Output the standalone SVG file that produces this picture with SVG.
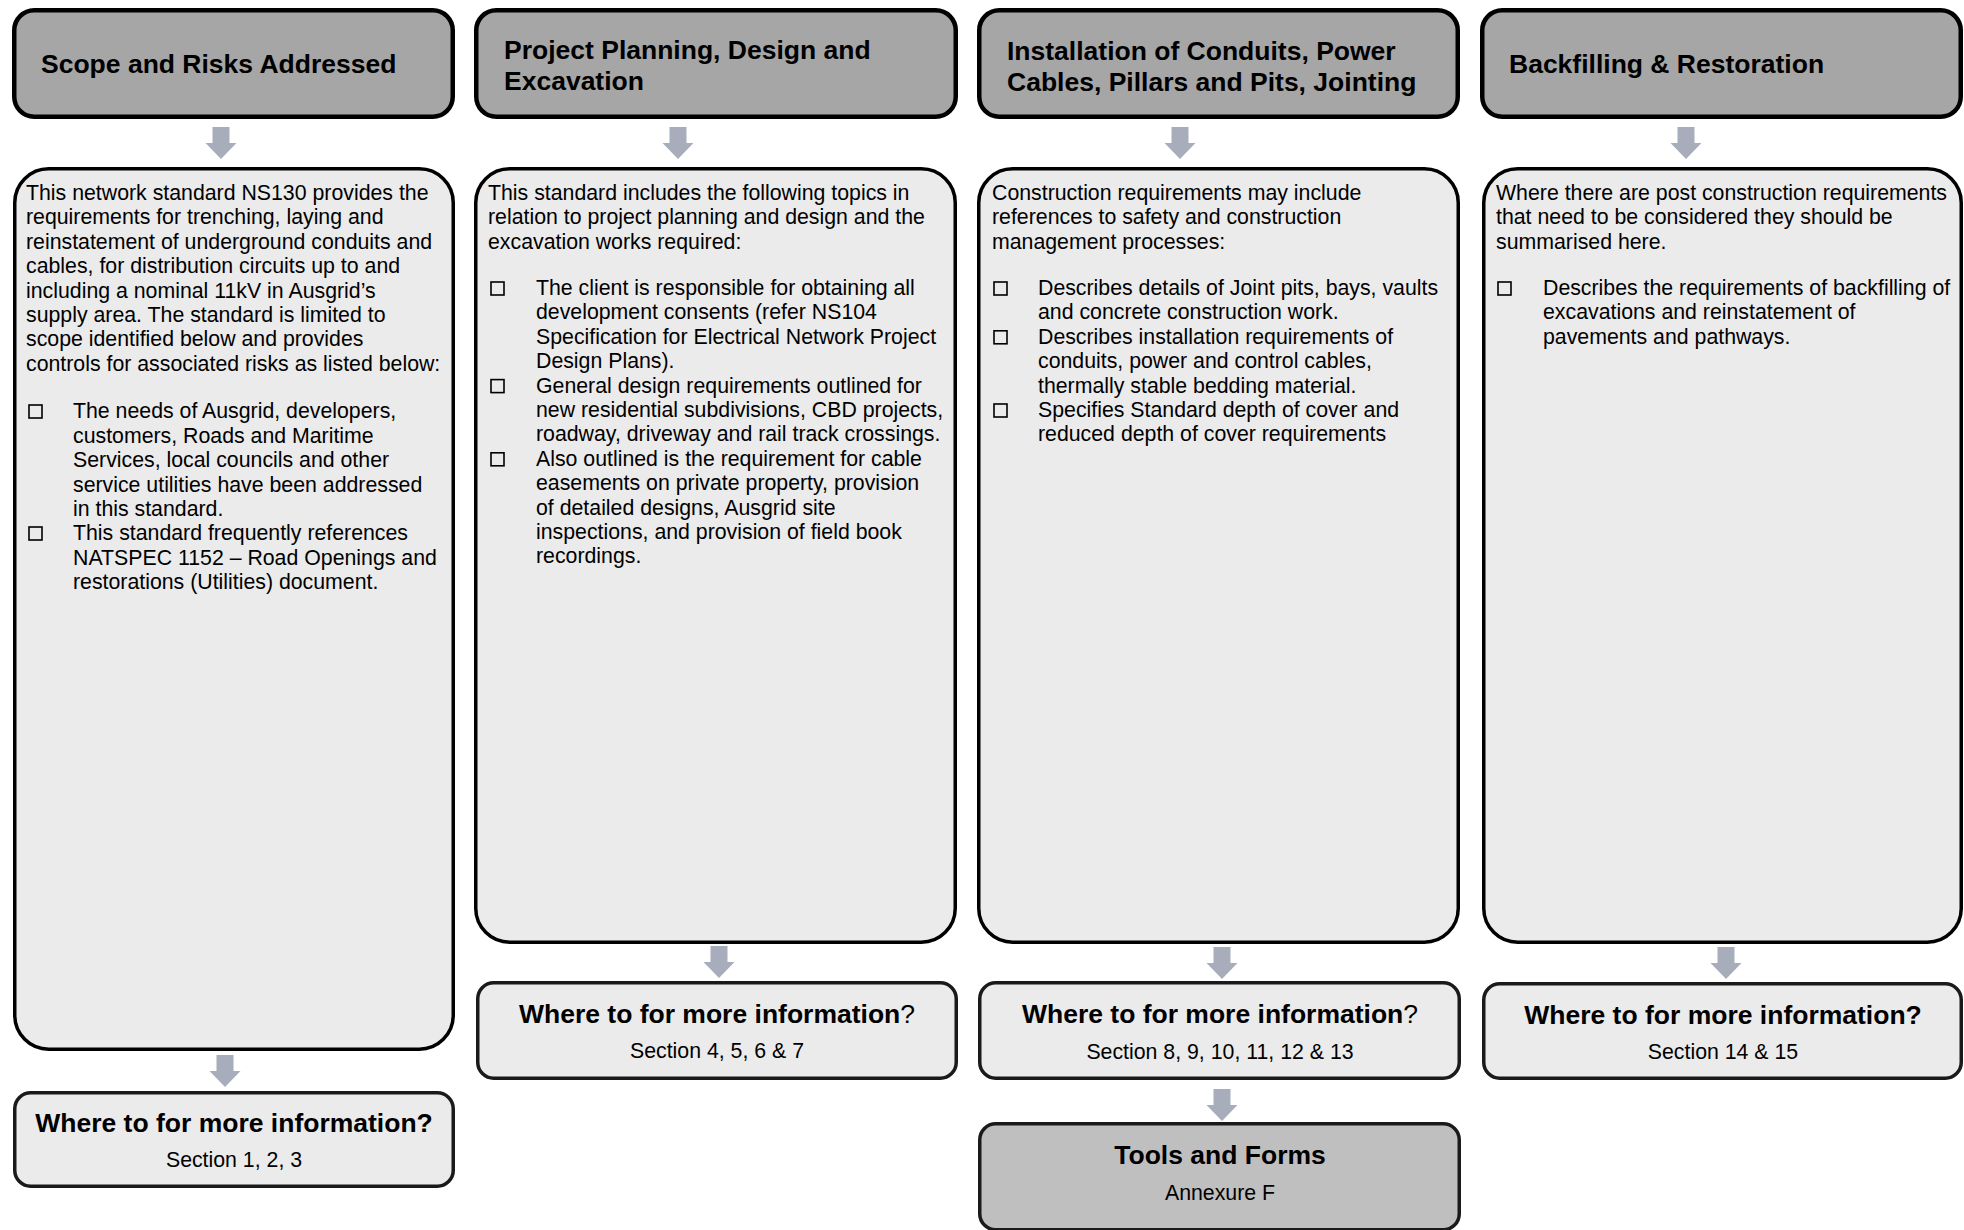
<svg xmlns="http://www.w3.org/2000/svg" xmlns:xlink="http://www.w3.org/1999/xlink" width="1964" height="1230" viewBox="0 0 1964 1230">
<style>
text{font-family:"Liberation Sans",Arial,sans-serif;fill:#000}
.hd{fill:#a6a6a6;stroke:#000;stroke-width:4.5}
.bd{fill:#ebebeb;stroke:#000;stroke-width:3.5}
.wh{fill:#ebebeb;stroke:#1a1a1a;stroke-width:3.5}
.tl{fill:#bfbfbf;stroke:#1a1a1a;stroke-width:3.5}
.ht{font-size:26.5px;font-weight:bold}
.bt{font-size:21.3px}
.wt{font-size:26.5px;font-weight:bold;text-anchor:middle}
.st{font-size:21.3px;text-anchor:middle}
.nb{font-weight:normal}
.sq{fill:none;stroke:#000;stroke-width:1.6}
.ar{fill:#a7adbb}
</style>
<defs>
<path id="arr" class="ar" d="M-8.5,0 H8.5 V16 H15.5 L0,32 L-15.5,16 H-8.5 Z"/>
</defs>
<rect width="1964" height="1230" fill="#fff"/>

<g id="connectors">
<use xlink:href="#arr" x="221" y="127"/>
<use xlink:href="#arr" x="678" y="127"/>
<use xlink:href="#arr" x="1180" y="127"/>
<use xlink:href="#arr" x="1686" y="127"/>
<use xlink:href="#arr" x="225" y="1055"/>
<use xlink:href="#arr" x="719" y="946"/>
<use xlink:href="#arr" x="1222" y="947"/>
<use xlink:href="#arr" x="1726" y="947"/>
<use xlink:href="#arr" x="1222" y="1089"/>
</g>

<g id="header1">
<rect class="hd" x="14.25" y="10.25" width="438.5" height="106.5" rx="20"/>
<text class="ht" x="41" y="73">Scope and Risks Addressed</text>
</g>
<g id="header2">
<rect class="hd" x="476.25" y="10.25" width="479.5" height="106.5" rx="20"/>
<text class="ht" x="504" y="59">Project Planning, Design and</text>
<text class="ht" x="504" y="90">Excavation</text>
</g>
<g id="header3">
<rect class="hd" x="979.25" y="10.25" width="478.5" height="106.5" rx="20"/>
<text class="ht" x="1007" y="60">Installation of Conduits, Power</text>
<text class="ht" x="1007" y="91">Cables, Pillars and Pits, Jointing</text>
</g>
<g id="header4">
<rect class="hd" x="1482.25" y="10.25" width="478.5" height="106.5" rx="20"/>
<text class="ht" x="1509" y="73">Backfilling &amp; Restoration</text>
</g>

<g id="body1">
<rect class="bd" x="14.75" y="168.75" width="438.5" height="880.5" rx="34"/>
<text class="bt" x="26" y="200">This network standard NS130 provides the</text>
<text class="bt" x="26" y="224.4">requirements for trenching, laying and</text>
<text class="bt" x="26" y="248.8">reinstatement of underground conduits and</text>
<text class="bt" x="26" y="273.2">cables, for distribution circuits up to and</text>
<text class="bt" x="26" y="297.6">including a nominal 11kV in Ausgrid’s</text>
<text class="bt" x="26" y="322">supply area. The standard is limited to</text>
<text class="bt" x="26" y="346.4">scope identified below and provides</text>
<text class="bt" x="26" y="370.8">controls for associated risks as listed below:</text>
<rect class="sq" x="29" y="405" width="13" height="13"/>
<text class="bt" x="73" y="418.3">The needs of Ausgrid, developers,</text>
<text class="bt" x="73" y="442.7">customers, Roads and Maritime</text>
<text class="bt" x="73" y="467.1">Services, local councils and other</text>
<text class="bt" x="73" y="491.5">service utilities have been addressed</text>
<text class="bt" x="73" y="515.9">in this standard.</text>
<rect class="sq" x="29" y="527" width="13" height="13"/>
<text class="bt" x="73" y="540.3">This standard frequently references</text>
<text class="bt" x="73" y="564.7">NATSPEC 1152 – Road Openings and</text>
<text class="bt" x="73" y="589.1">restorations (Utilities) document.</text>
</g>

<g id="body2">
<rect class="bd" x="475.75" y="168.75" width="479.5" height="773.5" rx="34"/>
<text class="bt" x="488" y="200">This standard includes the following topics in</text>
<text class="bt" x="488" y="224.4">relation to project planning and design and the</text>
<text class="bt" x="488" y="248.8">excavation works required:</text>
<rect class="sq" x="491" y="282" width="13" height="13"/>
<text class="bt" x="536" y="295">The client is responsible for obtaining all</text>
<text class="bt" x="536" y="319.4">development consents (refer NS104</text>
<text class="bt" x="536" y="343.8">Specification for Electrical Network Project</text>
<text class="bt" x="536" y="368.2">Design Plans).</text>
<rect class="sq" x="491" y="379.6" width="13" height="13"/>
<text class="bt" x="536" y="392.6">General design requirements outlined for</text>
<text class="bt" x="536" y="417">new residential subdivisions, CBD projects,</text>
<text class="bt" x="536" y="441.4">roadway, driveway and rail track crossings.</text>
<rect class="sq" x="491" y="452.8" width="13" height="13"/>
<text class="bt" x="536" y="465.8">Also outlined is the requirement for cable</text>
<text class="bt" x="536" y="490.2">easements on private property, provision</text>
<text class="bt" x="536" y="514.6">of detailed designs, Ausgrid site</text>
<text class="bt" x="536" y="539">inspections, and provision of field book</text>
<text class="bt" x="536" y="563.4">recordings.</text>
</g>

<g id="body3">
<rect class="bd" x="978.75" y="168.75" width="479.5" height="773.5" rx="34"/>
<text class="bt" x="992" y="200">Construction requirements may include</text>
<text class="bt" x="992" y="224.4">references to safety and construction</text>
<text class="bt" x="992" y="248.8">management processes:</text>
<rect class="sq" x="994" y="282" width="13" height="13"/>
<text class="bt" x="1038" y="295">Describes details of Joint pits, bays, vaults</text>
<text class="bt" x="1038" y="319.4">and concrete construction work.</text>
<rect class="sq" x="994" y="330.8" width="13" height="13"/>
<text class="bt" x="1038" y="343.8">Describes installation requirements of</text>
<text class="bt" x="1038" y="368.2">conduits, power and control cables,</text>
<text class="bt" x="1038" y="392.6">thermally stable bedding material.</text>
<rect class="sq" x="994" y="404" width="13" height="13"/>
<text class="bt" x="1038" y="417">Specifies Standard depth of cover and</text>
<text class="bt" x="1038" y="441.4">reduced depth of cover requirements</text>
</g>

<g id="body4">
<rect class="bd" x="1483.75" y="168.75" width="477.5" height="773.5" rx="34"/>
<text class="bt" x="1496" y="200">Where there are post construction requirements</text>
<text class="bt" x="1496" y="224.4">that need to be considered they should be</text>
<text class="bt" x="1496" y="248.8">summarised here.</text>
<rect class="sq" x="1498" y="282" width="13" height="13"/>
<text class="bt" x="1543" y="295">Describes the requirements of backfilling of</text>
<text class="bt" x="1543" y="319.4">excavations and reinstatement of</text>
<text class="bt" x="1543" y="343.8">pavements and pathways.</text>
</g>

<g id="info1">
<rect class="wh" x="14.75" y="1092.75" width="438.5" height="93.5" rx="16"/>
<text class="wt" x="234" y="1132">Where to for more information?</text>
<text class="st" x="234" y="1167">Section 1, 2, 3</text>
</g>
<g id="info2">
<rect class="wh" x="477.75" y="982.75" width="478.5" height="95.5" rx="16"/>
<text class="wt" x="717" y="1023">Where to for more information<tspan class="nb">?</tspan></text>
<text class="st" x="717" y="1058">Section 4, 5, 6 &amp; 7</text>
</g>
<g id="info3">
<rect class="wh" x="979.75" y="982.75" width="479.5" height="95.5" rx="16"/>
<text class="wt" x="1220" y="1023">Where to for more information<tspan class="nb">?</tspan></text>
<text class="st" x="1220" y="1059">Section 8, 9, 10, 11, 12 &amp; 13</text>
</g>
<g id="info4">
<rect class="wh" x="1483.75" y="983.75" width="477.5" height="94.5" rx="16"/>
<text class="wt" x="1723" y="1024">Where to for more information?</text>
<text class="st" x="1723" y="1059">Section 14 &amp; 15</text>
</g>
<g id="tools">
<rect class="tl" x="979.75" y="1123.75" width="479.5" height="106" rx="16"/>
<text class="wt" x="1220" y="1164">Tools and Forms</text>
<text class="st" x="1220" y="1200">Annexure F</text>
</g>
</svg>
